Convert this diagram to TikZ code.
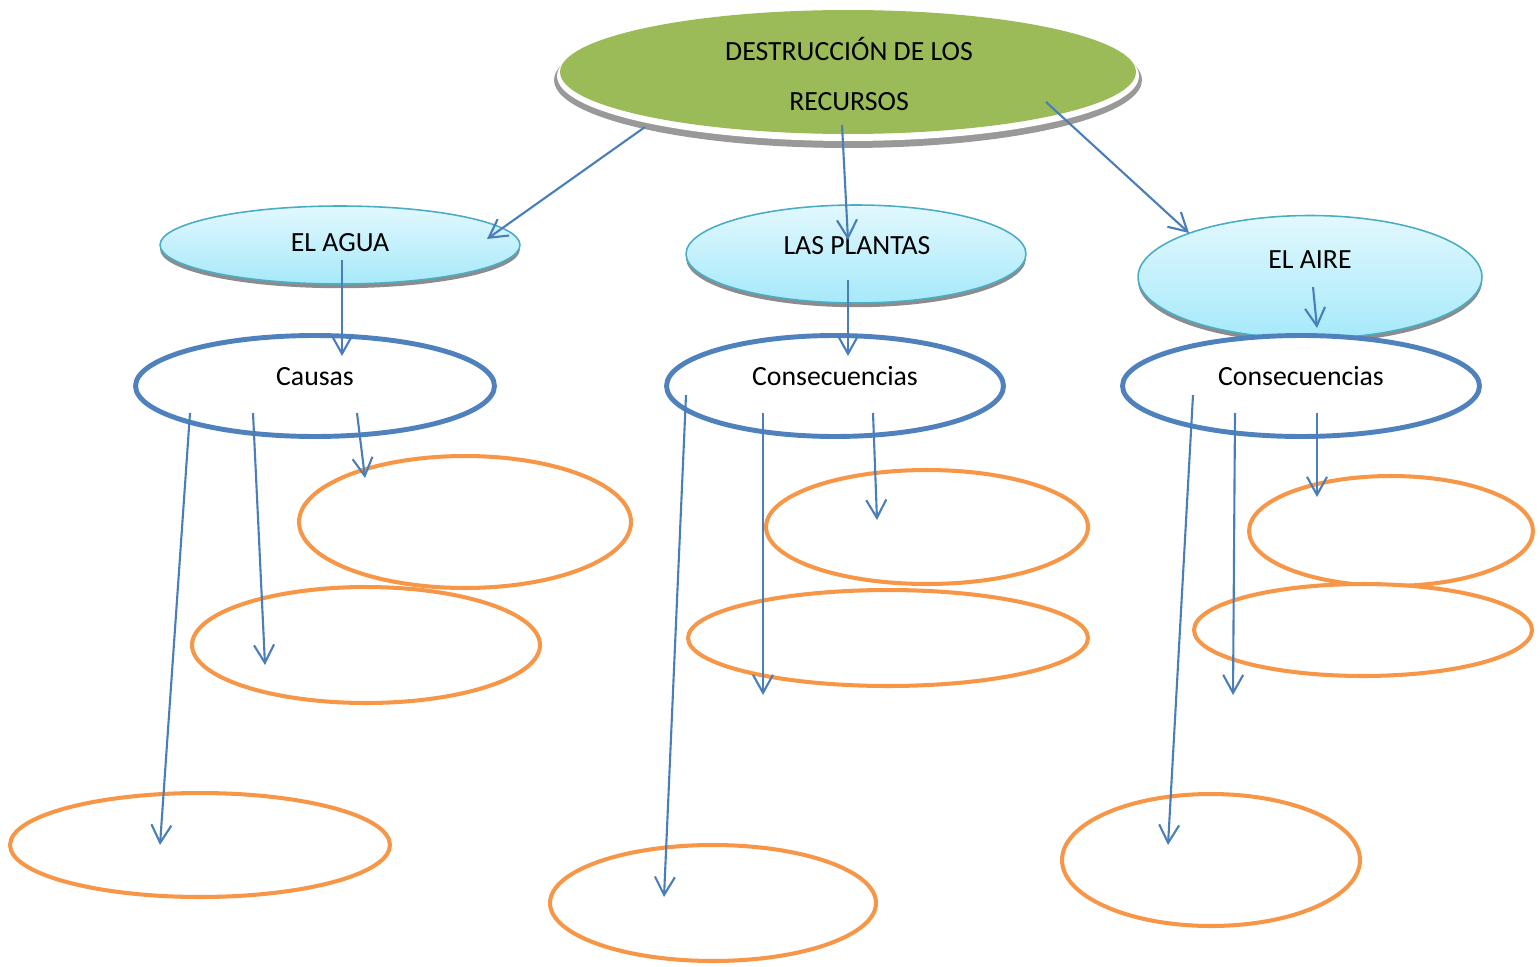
\documentclass[tikz,border=0pt]{standalone}
\usepackage{fontspec}
\setmainfont{Carlito}
\usetikzlibrary{shapes.geometric,arrows.meta,shadows}

\definecolor{verde}{RGB}{155,187,89}
\definecolor{cielo}{RGB}{75,172,198}
\definecolor{cieloA}{RGB}{226,248,254}
\definecolor{cieloB}{RGB}{166,233,250}
\definecolor{azul}{RGB}{79,129,189}
\definecolor{naranja}{RGB}{247,150,70}
\definecolor{flecha}{RGB}{74,126,187}

\begin{document}
\begin{tikzpicture}
  [x=0.02cm,y=-0.02cm,
   raizN/.style={ellipse,inner sep=0pt},
   temaN/.style={ellipse,inner sep=0pt,draw=cielo,line width=0.9pt,
     top color=cieloA,bottom color=cieloB,
     drop shadow={shadow xshift=0pt,shadow yshift=-2.4pt,fill=black!45,opacity=1}},
   grupoN/.style={ellipse,inner sep=0pt,draw=azul,line width=2.8pt,fill=white},
   vacioN/.style={ellipse,inner sep=0pt,draw=naranja,line width=2.3pt,fill=white},
   lbl/.style={anchor=base,inner sep=0pt,font=\fontsize{15.8}{19}\selectfont},
   flechaL/.style={draw=flecha,line width=1.2pt,
     -{Straight Barb[length=3.6mm,width=4mm,line width=1.2pt]}}]

  \useasboundingbox (0,0) rectangle (1540,966);

  % tema principal
  \node[raizN,fill=black!40,minimum width=11.76cm,minimum height=2.72cm] (rs) at (848,80) {};
  \node[raizN,fill=white,minimum width=11.64cm,minimum height=2.6cm] (rw) at (848,76) {};
  \node[raizN,fill=verde,minimum width=11.52cm,minimum height=2.48cm] (raiz) at (848,72) {};
  \node[lbl] (r1) at (849,61) {DESTRUCCIÓN DE LOS};
  \node[lbl] (r2) at (849,111) {RECURSOS};

  % recursos
  \node[temaN,minimum width=7.2cm,minimum height=1.56cm] (agua) at (340,245) {};
  \node[temaN,minimum width=6.8cm,minimum height=1.96cm] (plantas) at (856,254) {};
  \node[temaN,minimum width=6.88cm,minimum height=2.46cm] (aire) at (1310,277) {};
  \node[lbl] (t1) at (340,251) {EL AGUA};
  \node[lbl] (t2) at (857,254) {LAS PLANTAS};
  \node[lbl] (t3) at (1310,268) {EL AIRE};

  % causas / consecuencias
  \node[grupoN,minimum width=7.18cm,minimum height=2.02cm] (causas) at (315,386) {};
  \node[grupoN,minimum width=6.74cm,minimum height=2.02cm] (consP) at (835,386) {};
  \node[grupoN,minimum width=7.14cm,minimum height=2.02cm] (consA) at (1301,386) {};
  \node[lbl] (g1) at (315,385) {Causas};
  \node[lbl] (g2) at (835,385) {Consecuencias};
  \node[lbl] (g3) at (1301,385) {Consecuencias};

  % casillas vacias
  \node[vacioN,minimum width=6.64cm,minimum height=2.64cm] (v1) at (465,522) {};
  \node[vacioN,minimum width=6.96cm,minimum height=2.32cm] (v2) at (366,645) {};
  \node[vacioN,minimum width=7.6cm,minimum height=2.08cm] (v3) at (200,845) {};
  \node[vacioN,minimum width=6.44cm,minimum height=2.28cm] (v4) at (927,527) {};
  \node[vacioN,minimum width=8.0cm,minimum height=1.92cm] (v5) at (888,638) {};
  \node[vacioN,minimum width=6.52cm,minimum height=2.32cm] (v6) at (713,903) {};
  \node[vacioN,minimum width=5.68cm,minimum height=2.2cm] (v7) at (1391,531) {};
  \node[vacioN,minimum width=6.76cm,minimum height=1.84cm] (v8) at (1363,630) {};
  \node[vacioN,minimum width=5.96cm,minimum height=2.64cm] (v9) at (1211,860) {};

  % extremos de las flechas
  \coordinate (a1) at (645,127);  \coordinate (b1) at (487,239);
  \coordinate (a2) at (842,125);  \coordinate (b2) at (848,240);
  \coordinate (a3) at (1046,102); \coordinate (b3) at (1189,233);
  \coordinate (a4) at (342,260);  \coordinate (b4) at (342,356);
  \coordinate (a5) at (848,280);  \coordinate (b5) at (848,356);
  \coordinate (a6) at (1313,287); \coordinate (b6) at (1317,328);
  \coordinate (c1) at (357,413);  \coordinate (d1) at (365,478);
  \coordinate (c2) at (253,413);  \coordinate (d2) at (265,665);
  \coordinate (c3) at (190,413);  \coordinate (d3) at (160,845);
  \coordinate (c4) at (873,413);  \coordinate (d4) at (877,520);
  \coordinate (c5) at (763,413);  \coordinate (d5) at (763,695);
  \coordinate (c6) at (686,395);  \coordinate (d6) at (664,897);
  \coordinate (c7) at (1317,413); \coordinate (d7) at (1317,497);
  \coordinate (c8) at (1235,413); \coordinate (d8) at (1233,695);
  \coordinate (c9) at (1193,395); \coordinate (d9) at (1168,845);

  \foreach \i in {1,...,6}
    \draw [flechaL] (a\i) -- (b\i);
  \foreach \i in {1,...,9}
    \draw [flechaL] (c\i) -- (d\i);
\end{tikzpicture}
\end{document}
